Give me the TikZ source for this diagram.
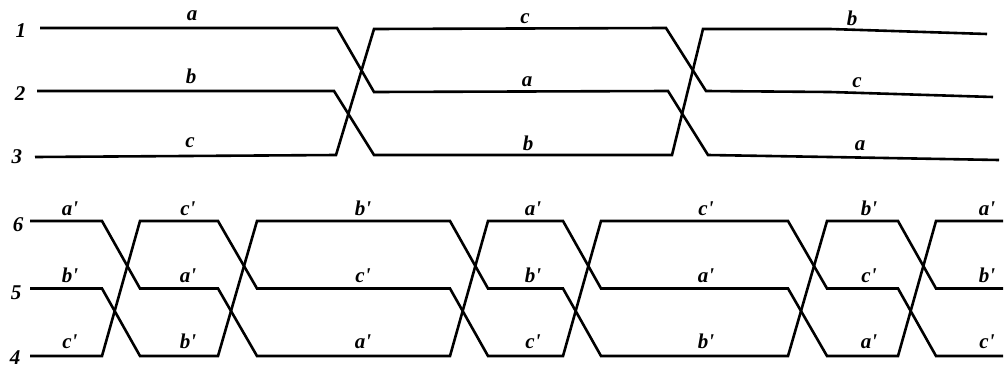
\documentclass[tikz,border=0pt]{standalone}
\usepackage{fontspec}
\setmainfont{Liberation Serif}
\tikzset{
  wire/.style   = {line width=2.6pt, line join=miter},
  phase/.style  = {font=\fontsize{21}{23}\selectfont\bfseries\itshape,
                   inner sep=0pt, anchor=base},
  lineno/.style = {font=\fontsize{21}{23}\selectfont\bfseries\itshape,
                   inner sep=0pt, anchor=base},
}
\newcommand{\pr}{\textquotesingle}
\begin{document}
\begin{tikzpicture}[x=1pt,y=-1pt]
\useasboundingbox (0,0) rectangle (1008,367);
% line numbers
\node[lineno] (n1) at (21,37)  {1};
\node[lineno] (n2) at (20,100) {2};
\node[lineno] (n3) at (17,163) {3};
\node[lineno] (n6) at (18,231) {6};
\node[lineno] (n5) at (16,299) {5};
\node[lineno] (n4) at (15,364) {4};
% upper circuit, two transpositions
\coordinate (ua) at (40,28);
\coordinate (ub) at (37,91);
\coordinate (uc) at (35,157);
\draw[wire] (ua) -- (337,28) -- (374,92) -- (668,91) -- (708,155) -- (830,157) -- (999,160);
\draw[wire] (ub) -- (334,91) -- (374,155) -- (672,155) -- (703,29) -- (830,29) -- (987,34);
\draw[wire] (uc) -- (336,155) -- (374,29) -- (666,28) -- (706,91) -- (830,92) -- (993,97);
\node[phase] (ua1) at (192,20)  {a};
\node[phase] (ub1) at (191,83)  {b};
\node[phase] (uc1) at (190,147) {c};
\node[phase] (uc2) at (525,23)  {c};
\node[phase] (ua2) at (527,86)  {a};
\node[phase] (ub2) at (528,150) {b};
\node[phase] (ub3) at (852,25)  {b};
\node[phase] (uc3) at (857,87)  {c};
\node[phase] (ua3) at (860,150) {a};
% lower circuit, six transpositions
\foreach \r in {0,1,2} {
  \coordinate (l\r) at (30,{221+67.5*\r});
  \draw[wire] (l\r)
    \foreach \xl/\xr [count=\k from 0] in {102/140,218/257,450/488,563/601,788/827,898/936}
      { -- (\xl,{221+67.5*mod(\r+\k,3)}) -- (\xr,{221+67.5*mod(\r+\k+1,3)}) }
    -- (1003,{221+67.5*\r});
}
\foreach \x/\u/\v/\w [count=\k] in {70/a/b/c,188/c/a/b,363/b/c/a,533/a/b/c,706/c/a/b,869/b/c/a,987/a/b/c} {
  \node[phase] (lt\k) at (\x,215) {\u\pr};
  \node[phase] (lm\k) at (\x,282) {\v\pr};
  \node[phase] (lb\k) at (\x,348) {\w\pr};
}
\end{tikzpicture}
\end{document}
